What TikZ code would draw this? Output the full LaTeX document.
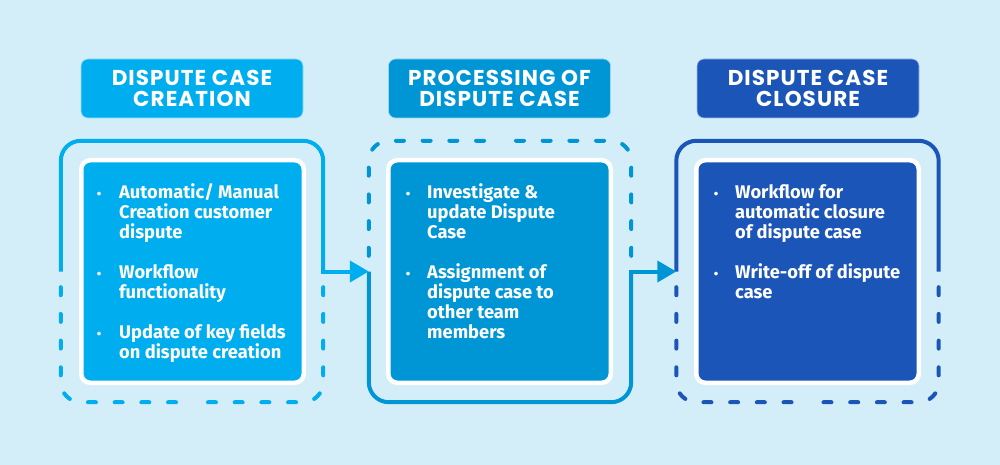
\documentclass[tikz,border=0pt]{standalone}
\usepackage{fontspec}
\newfontfamily\titlefont{Poppins}[LetterSpace=5]
\newfontfamily\bodyfont{Fira Sans}
\usetikzlibrary{arrows.meta}
\definecolor{bgc}{HTML}{D4EEF9}
\definecolor{cA}{HTML}{00AEEF}
\definecolor{cB}{HTML}{0096D6}
\definecolor{cC}{HTML}{1B55B8}
\begin{document}
\begin{tikzpicture}[x=1pt,y=-1pt,
  framebox/.style={draw=none,inner sep=0,minimum width=262,minimum height=261},
  solidline/.style={draw=#1,line width=4,rounded corners=20},
  dashline/.style={draw=#1,line width=4,rounded corners=20,line cap=round,dash pattern=on 8 off 18.7,dash phase=11},
  flowarrow/.style={draw=#1,line width=4,line cap=rect,-{Triangle[length=19pt,width=21pt]}},
  titlebox/.style={fill=#1,draw=white!60!#1,line width=0.6,rounded corners=7,minimum width=222,minimum height=59,inner sep=0,
    text=white,align=center,font=\titlefont\bfseries\fontsize{21.5}{20.5}\selectfont},
  contentbox/.style={fill=#1,draw=white,line width=4.5,rounded corners=9,minimum width=222.5,minimum height=222.5,inner sep=0},
  itemline/.style={anchor=base west,inner sep=0,text=white,font=\bodyfont\bfseries\fontsize{18.3}{20}\selectfont},
  bulletmark/.style={anchor=base,inner sep=0,text=white,font=\bodyfont\bfseries\fontsize{13}{13}\selectfont}
]
\fill[bgc] (0,0) rectangle (1000,465);
\useasboundingbox (0,0) rectangle (1000,465);

% titles
\node[titlebox=cA] (t1) at (192,88.5) {DISPUTE CASE\\CREATION};
\node[titlebox=cB] (t2) at (499.5,88.5) {PROCESSING OF\\DISPUTE CASE};
\node[titlebox=cC] (t3) at (808,88.5) {DISPUTE CASE\\CLOSURE};

% frames
\node[framebox] (f1) at (192,271.5) {};
\node[framebox] (f2) at (500,271.5) {};
\node[framebox] (f3) at (807.5,271.5) {};

% frame 1
\draw[solidline=cA] (f1.west) -- (f1.north west) -- (f1.north east) -- (f1.east);
\draw[dashline=cA] (f1.west) -- (f1.south west) -- (f1.south);
\draw[dashline=cA] (f1.east) -- (f1.south east) -- (f1.south);
% frame 2
\draw[dashline=cB] (f2.west) -- (f2.north west) -- (f2.north);
\draw[dashline=cB] (f2.east) -- (f2.north east) -- (f2.north);
\draw[solidline=cB] (f2.west) -- (f2.south west) -- (f2.south east) -- (f2.east);
% frame 3
\draw[solidline=cC] (f3.west) -- (f3.north west) -- (f3.north east) -- (f3.east);
\draw[dashline=cC] (f3.west) -- (f3.south west) -- (f3.south);
\draw[dashline=cC] (f3.east) -- (f3.south east) -- (f3.south);
% arrows
\draw[flowarrow=cA] (f1.east) -- (f2.west);
\draw[flowarrow=cB] (f2.east) -- (f3.west);

% content boxes
\node[contentbox=cA] (b1) at (192.5,271.5) {};
\node[contentbox=cB] (b2) at (499.5,271.5) {};
\node[contentbox=cC] (b3) at (807.5,271.5) {};

% column 1
\node[bulletmark] (p1a) at (99,198) {•};
\node[itemline] (l1a1) at (119,198) {Automatic/ Manual};
\node[itemline] (l1a2) at (119,218) {Creation customer};
\node[itemline] (l1a3) at (119,238) {dispute};
\node[bulletmark] (p1b) at (99,278) {•};
\node[itemline] (l1b1) at (119,278) {Workflow};
\node[itemline] (l1b2) at (119,298) {functionality};
\node[bulletmark] (p1c) at (99,338) {•};
\node[itemline] (l1c1) at (119,338) {Update of key fields};
\node[itemline] (l1c2) at (119,358) {on dispute creation};

% column 2
\node[bulletmark] (p2a) at (408,198) {•};
\node[itemline] (l2a1) at (427,198) {Investigate \&};
\node[itemline] (l2a2) at (427,218) {update Dispute};
\node[itemline] (l2a3) at (427,238) {Case};
\node[bulletmark] (p2b) at (408,278) {•};
\node[itemline] (l2b1) at (427,278) {Assignment of};
\node[itemline] (l2b2) at (427,298) {dispute case to};
\node[itemline] (l2b3) at (427,318) {other team};
\node[itemline] (l2b4) at (427,338) {members};

% column 3
\node[bulletmark] (p3a) at (716,198) {•};
\node[itemline] (l3a1) at (735,198) {Workflow for};
\node[itemline] (l3a2) at (735,218) {automatic closure};
\node[itemline] (l3a3) at (735,238) {of dispute case};
\node[bulletmark] (p3b) at (716,278) {•};
\node[itemline] (l3b1) at (735,278) {Write-off of dispute};
\node[itemline] (l3b2) at (735,298) {case};
\end{tikzpicture}
\end{document}
